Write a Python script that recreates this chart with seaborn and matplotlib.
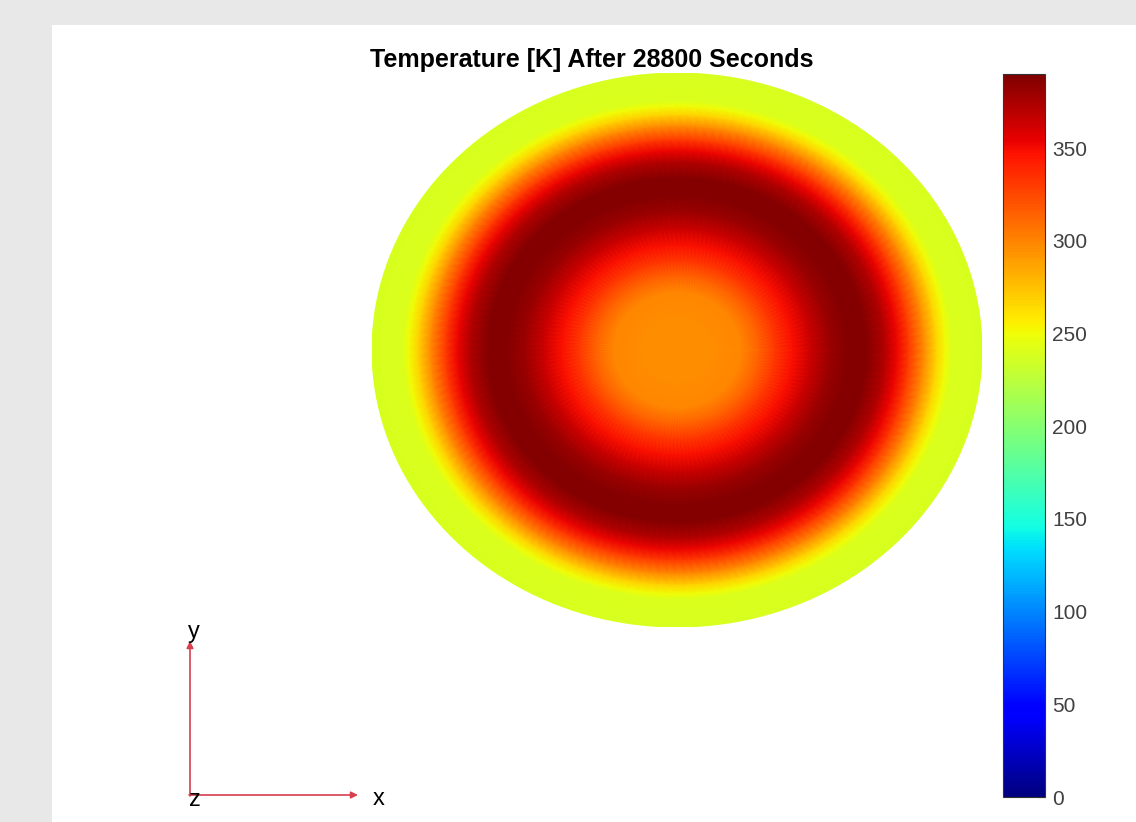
import numpy as np
import matplotlib
matplotlib.use("Agg")
import matplotlib.pyplot as plt
import matplotlib.tri as mtri
import seaborn as sns

sns.set_theme(style="white")
plt.rcParams['font.family'] = ['Liberation Sans', 'DejaVu Sans']

# radial temperature profile (fraction of disk radius -> temperature in K)
radius_frac = [0.0, 0.12, 0.21, 0.27, 0.32, 0.38, 0.44, 0.50, 0.56, 0.62,
               0.68, 0.72, 0.76, 0.81, 0.85, 0.88, 0.90, 1.0]
temperature = [297, 297, 300, 315, 332, 348, 365, 380, 388, 388,
               372, 352, 330, 296, 268, 250, 240, 238]

cbar_ticks = [0, 50, 100, 150, 200, 250, 300, 350]
t_min, t_max = 0, 390
title = "Temperature [K] After 28800 Seconds"

W, H = 1136, 822
fig = plt.figure(figsize=(W / 100, H / 100), dpi=100, facecolor="#e8e8e8")

# white panel
panel = fig.add_axes([52 / W, 0, 1 - 52 / W, (H - 25) / H])
panel.set_facecolor("white")
panel.set_xticks([])
panel.set_yticks([])
for s in panel.spines.values():
    s.set_visible(False)

# structured disk mesh: centre point + rings at the profile radii
n_ang = 180
ang = np.linspace(0, 2 * np.pi, n_ang, endpoint=False)
xs, ys, zs = [0.0], [0.0], [temperature[0]]
for r, t in zip(radius_frac[1:], temperature[1:]):
    xs.extend(r * np.cos(ang))
    ys.extend(r * np.sin(ang))
    zs.extend([t] * n_ang)

triangles = []
for j in range(n_ang):
    triangles.append([0, 1 + j, 1 + (j + 1) % n_ang])
for i in range(len(radius_frac) - 2):
    a0 = 1 + i * n_ang
    b0 = 1 + (i + 1) * n_ang
    for j in range(n_ang):
        jn = (j + 1) % n_ang
        triangles.append([a0 + j, b0 + j, b0 + jn])
        triangles.append([a0 + j, b0 + jn, a0 + jn])
tri = mtri.Triangulation(np.array(xs), np.array(ys), np.array(triangles))

ax = fig.add_axes([372 / W, (H - 627) / H, 610 / W, 554 / H])
tpc = ax.tripcolor(tri, np.array(zs, dtype=float), shading="gouraud",
                   cmap="jet", vmin=t_min, vmax=t_max)
ax.set_xlim(-1, 1)
ax.set_ylim(-1, 1)
ax.axis("off")

fig.text(592 / W, 1 - 60 / H, title, ha="center", va="center",
         fontsize=18, fontweight="bold", color="black")

# colorbar
cax = fig.add_axes([1003 / W, (H - 797) / H, 42 / W, 723 / H])
cb = fig.colorbar(tpc, cax=cax, ticks=cbar_ticks)
cb.outline.set_edgecolor("#333333")
cb.outline.set_linewidth(0.8)
cax.tick_params(direction="in", length=5, width=0.8, color="#333333",
                labelsize=15, labelcolor="#404040", pad=5)

# axes triad
ov = fig.add_axes([0, 0, 1, 1])
ov.set_xlim(0, W)
ov.set_ylim(H, 0)
ov.axis("off")
red = "#d8404f"
ov.annotate("", xy=(190, 641), xytext=(190, 796),
            arrowprops=dict(arrowstyle="-|>", color=red, lw=1.2,
                            mutation_scale=10, shrinkA=0, shrinkB=0))
ov.annotate("", xy=(358, 795), xytext=(189, 795),
            arrowprops=dict(arrowstyle="-|>", color=red, lw=1.2,
                            mutation_scale=10, shrinkA=0, shrinkB=0))
ov.text(194, 632, "y", ha="center", va="center", fontsize=17, color="black")
ov.text(379, 799, "x", ha="center", va="center", fontsize=17, color="black")
ov.text(195, 800, "z", ha="center", va="center", fontsize=17, color="black")

fig.savefig("out.png", dpi=100, facecolor=fig.get_facecolor())
